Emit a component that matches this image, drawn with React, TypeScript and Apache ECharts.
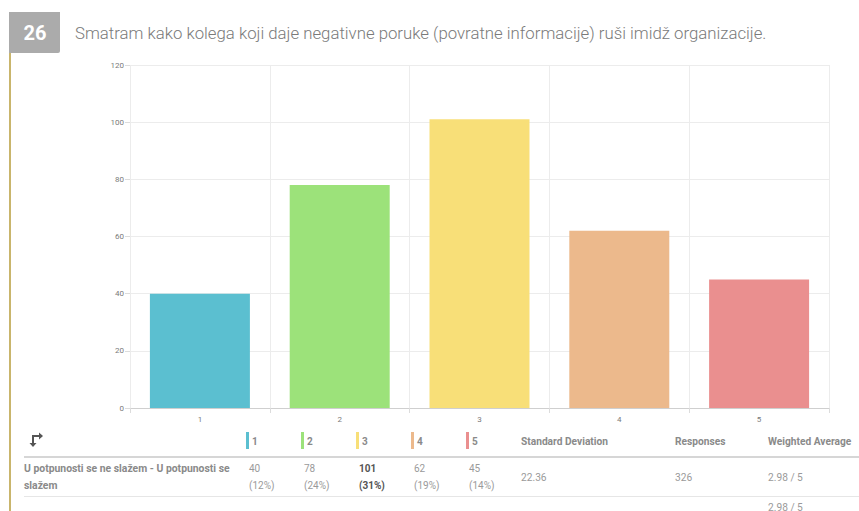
import React, { useEffect, useRef } from "react";
import * as echarts from "echarts";

const categories = ["1", "2", "3", "4", "5"];
const counts = [40, 78, 101, 62, 45];
const percents = ["(12%)", "(24%)", "(31%)", "(19%)", "(14%)"];
const barColors = ["#5bbfd0", "#9ce27a", "#f8df78", "#ecb98c", "#ea8f8f"];
const yTicks = { min: 0, max: 120, interval: 20 };

const questionNumber = "26";
const questionTitle =
  "Smatram kako kolega koji daje negativne poruke (povratne informacije) ruši imidž organizacije.";
const rowLabelLines = ["U potpunosti se ne slažem - U potpunosti se", "slažem"];
const stdDeviation = "22.36";
const responses = "326";
const weightedAverage = "2.98 / 5";

const FONT = "Roboto, 'Noto Sans', sans-serif";

export default function App() {
  const ref = useRef<HTMLDivElement>(null);

  useEffect(() => {
    if (!ref.current) return;
    const chart = echarts.init(ref.current, null, { renderer: "svg" });

    const colX = [246, 301, 356, 411, 466];
    const maxIdx = counts.indexOf(Math.max(...counts));

    const headerEls: any[] = [];
    categories.forEach((c, i) => {
      headerEls.push({
        type: "rect",
        shape: { x: colX[i], y: 432, width: 3, height: 17 },
        style: { fill: barColors[i] },
      });
      headerEls.push({
        type: "text",
        x: colX[i] + 6,
        y: 441,
        style: {
          text: c,
          fill: "#8a8a8a",
          font: `bold 10px ${FONT}`,
          verticalAlign: "middle",
        },
      });
      const bold = i === maxIdx;
      headerEls.push({
        type: "text",
        x: colX[i] + 3,
        y: 468,
        style: {
          text: String(counts[i]),
          fill: bold ? "#555" : "#9a9a9a",
          font: `${bold ? "bold " : ""}10px ${FONT}`,
          verticalAlign: "middle",
        },
      });
      headerEls.push({
        type: "text",
        x: colX[i] + 3,
        y: 485,
        style: {
          text: percents[i],
          fill: bold ? "#555" : "#9a9a9a",
          font: `${bold ? "bold " : ""}10px ${FONT}`,
          verticalAlign: "middle",
        },
      });
    });

    const headerText = (text: string, x: number) => ({
      type: "text",
      x,
      y: 441,
      style: { text, fill: "#8a8a8a", font: `bold 10.2px ${FONT}`, verticalAlign: "middle" },
    });
    const cellText = (text: string, x: number, y: number) => ({
      type: "text",
      x,
      y,
      style: { text, fill: "#9a9a9a", font: `10.2px ${FONT}`, verticalAlign: "middle" },
    });

    chart.setOption({
      animation: false,
      backgroundColor: "#ffffff",
      grid: { left: 130, right: 30, top: 65, bottom: 103 },
      xAxis: {
        type: "category",
        data: categories,
        axisLine: { lineStyle: { color: "#cfcfcf" } },
        axisTick: { show: true, length: 5, lineStyle: { color: "#dcdcdc" } },
        axisLabel: { color: "#7a7a7a", fontSize: 8, fontFamily: FONT, margin: 7 },
        splitLine: { show: true, lineStyle: { color: "#ececec" } },
      },
      yAxis: {
        type: "value",
        min: yTicks.min,
        max: yTicks.max,
        interval: yTicks.interval,
        axisLine: { show: false },
        axisTick: { show: true, length: 5, lineStyle: { color: "#dcdcdc" } },
        axisLabel: { color: "#7a7a7a", fontSize: 8, fontFamily: FONT, margin: 6 },
        splitLine: { show: true, lineStyle: { color: "#ececec" } },
      },
      series: [
        {
          type: "bar",
          barWidth: 100,
          data: counts.map((v, i) => ({ value: v, itemStyle: { color: barColors[i] } })),
        },
      ],
      graphic: [
        // gold rule down the left edge
        { type: "rect", shape: { x: 9, y: 12, width: 2, height: 499 }, style: { fill: "#c9b56c" } },
        // question number badge
        { type: "rect", shape: { x: 9, y: 12, width: 51, height: 41, r: [0, 0, 2, 0] }, style: { fill: "#ababab" } },
        {
          type: "text",
          x: 35,
          y: 33,
          style: {
            text: questionNumber,
            fill: "#ffffff",
            font: `bold 20px ${FONT}`,
            align: "center",
            verticalAlign: "middle",
          },
        },
        {
          type: "text",
          x: 75,
          y: 33,
          style: {
            text: questionTitle,
            fill: "#7a7a7a",
            font: `300 16.8px ${FONT}`,
            verticalAlign: "middle",
          },
        },
        // swap icon
        {
          type: "polyline",
          shape: { points: [[33, 445], [33, 436], [40, 436]] },
          style: { stroke: "#555", lineWidth: 2, fill: "none" },
        },
        { type: "polygon", shape: { points: [[29.5, 443], [36.5, 443], [33, 447]] }, style: { fill: "#555" } },
        { type: "polygon", shape: { points: [[39, 432.5], [39, 439.5], [43, 436]] }, style: { fill: "#555" } },
        ...headerEls,
        headerText("Standard Deviation", 521),
        headerText("Responses", 675),
        headerText("Weighted Average", 768),
        // header rule and row rule
        { type: "rect", shape: { x: 24, y: 456, width: 835, height: 2 }, style: { fill: "#d6d6d6" } },
        { type: "rect", shape: { x: 24, y: 496, width: 835, height: 1 }, style: { fill: "#e6e6e6" } },
        {
          type: "text",
          x: 24,
          y: 468,
          style: { text: rowLabelLines[0], fill: "#8a8a8a", font: `bold 10.4px ${FONT}`, verticalAlign: "middle" },
        },
        {
          type: "text",
          x: 24,
          y: 485,
          style: { text: rowLabelLines[1], fill: "#8a8a8a", font: `bold 10.4px ${FONT}`, verticalAlign: "middle" },
        },
        cellText(stdDeviation, 521, 477),
        cellText(responses, 675, 477),
        cellText(weightedAverage, 768, 477),
        cellText(weightedAverage, 768, 507),
      ],
    });

    return () => chart.dispose();
  }, []);

  return (
    <div
      ref={ref}
      style={{ position: "fixed", left: 0, top: 0, width: 859, height: 511, background: "#fff" }}
    />
  );
}
